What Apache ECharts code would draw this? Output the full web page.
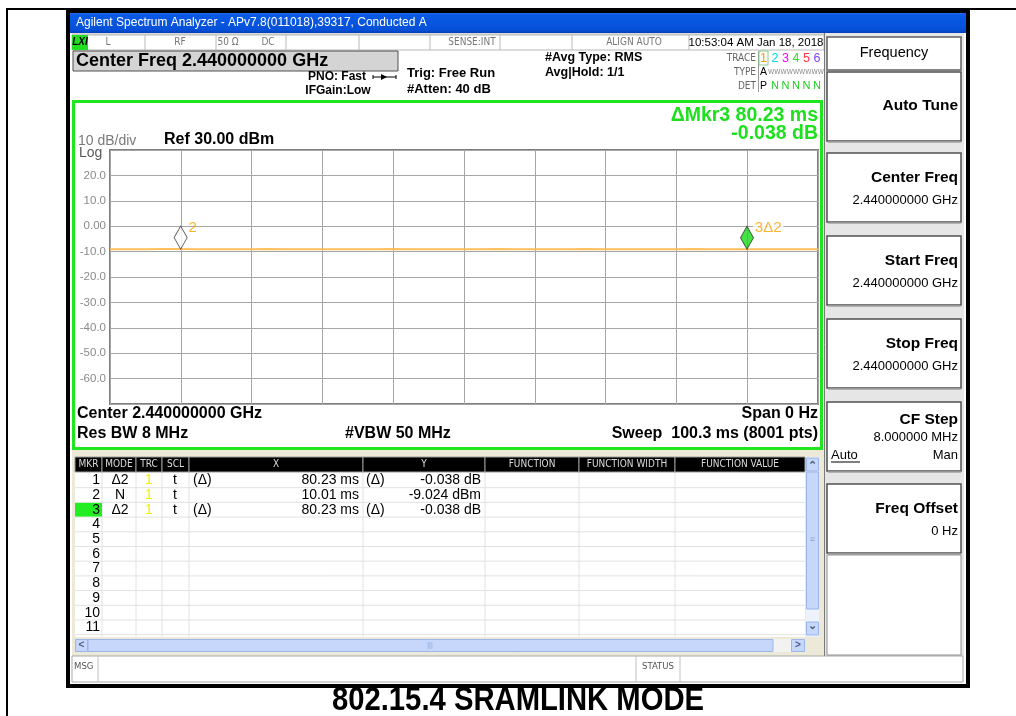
<!DOCTYPE html>
<html><head><meta charset="utf-8">
<script src="https://cdn.jsdelivr.net/npm/echarts@6/dist/echarts.min.js"></script>
<style>html,body{margin:0;padding:0;background:#fff}#c{width:1016px;height:716px}</style>
</head><body><div id="c"></div>
<script>
// ---------------- data ----------------
const sweepTimeMs = 100.3;
const refLevel = 30, bottomLevel = -70, dbPerDiv = 10;
const yTickLabels = {"20":"20.0","10":"10.0","0":"0.00","-10":"-10.0","-20":"-20.0","-30":"-30.0","-40":"-40.0","-50":"-50.0","-60":"-60.0"};
const traceTimes  = [0, 2.5, 5.0, 7.5, 10.01, 12.5, 15.0, 17.5, 20.0, 22.5, 25.0, 27.5, 30.0, 32.5, 35.0, 37.5, 40.0, 42.5, 45.0, 47.5, 50.0, 52.5, 55.0, 57.5, 60.0, 62.5, 65.0, 67.5, 70.0, 72.5, 75.0, 77.5, 80.0, 82.5, 85.0, 87.5, 90.24, 92.5, 95.0, 97.5, 100.3];
const traceLevels = [-9.05, -9.03, -9.04, -9.02, -9.024, -9.05, -9.03, -9.06, -9.04, -9.02, -9.05, -9.03, -9.04, -9.06, -9.03, -9.05, -9.02, -9.04, -9.05, -9.03, -9.04, -9.06, -9.02, -9.05, -9.03, -9.04, -9.05, -9.02, -9.04, -9.06, -9.03, -9.05, -9.04, -9.02, -9.05, -9.04, -9.062, -9.03, -9.05, -9.04, -9.03];
// marker table
const mkrNumbers = ["1","2","3","4","5","6","7","8","9","10","11"];
const mkrModes   = ["Δ2","N","Δ2"];
const mkrTrc     = ["1","1","1"];
const mkrScl     = ["t","t","t"];
const mkrXRef    = ["(Δ)","","(Δ)"];
const mkrX       = ["80.23 ms","10.01 ms","80.23 ms"];
const mkrYRef    = ["(Δ)","","(Δ)"];
const mkrY       = ["-0.038 dB","-9.024 dBm","-0.038 dB"];
const mkrRefTime = 10.01, mkrRefLevel = -9.024;
const mkrDeltaTime = 80.23, mkrDeltaLevel = -0.038;
const tableHeaders = ["MKR","MODE","TRC","SCL","X","Y","FUNCTION","FUNCTION WIDTH","FUNCTION VALUE"];
const softKeys = [
  {title:"Auto Tune", value:""},
  {title:"Center Freq", value:"2.440000000 GHz"},
  {title:"Start Freq", value:"2.440000000 GHz"},
  {title:"Stop Freq", value:"2.440000000 GHz"},
  {title:"CF Step", value:"8.000000 MHz"},
  {title:"Freq Offset", value:"0 Hz"}
];
const caption = "802.15.4 SRAMLINK MODE";

// ---------------- helpers ----------------
const F = "'Liberation Sans', Arial, sans-serif";
const FC = "'DejaVu Sans Condensed', 'Liberation Sans Narrow', sans-serif";
const G = [];
function T(text, x, y, font, fill, align, z, extra) {
  const s = {text:text, x:x, y:y, font:font, fill:fill||'#000', textAlign:align||'left', align:align||'left', textVerticalAlign:'middle', verticalAlign:'middle'};
  if (extra) Object.assign(s, extra);
  G.push({type:'text', silent:true, z:z||10, style:s});
}
function R(x, y, w, h, fill, stroke, lw, z) {
  G.push({type:'rect', silent:true, z:z||1, shape:{x:x, y:y, width:w, height:h}, style:{fill:fill||'none', stroke:stroke||'none', lineWidth:lw||1}});
}
function L(x1, y1, x2, y2, stroke, lw, z) {
  G.push({type:'line', silent:true, z:z||5, shape:{x1:x1, y1:y1, x2:x2, y2:y2}, style:{stroke:stroke, lineWidth:lw||1}});
}

// outer page lines
L(7, 9, 7, 716, '#000', 2, 20);
L(6, 9, 1016, 9, '#000', 2, 20);

// screenshot window frame
G.push({type:'rect', silent:true, z:1, shape:{x:70, y:12, width:896, height:21},
  style:{fill:{type:'linear', x:0, y:0, x2:0, y2:1, colorStops:[{offset:0,color:'#2b72ee'},{offset:0.15,color:'#0a5ae6'},{offset:0.85,color:'#0550d8'},{offset:1,color:'#0340b8'}]}}});
T("Agilent Spectrum Analyzer - APv7.8(011018),39317, Conducted A", 76, 23, "12px " + F, '#ffffff', 'left', 12);
R(68, 11, 900, 675, 'none', '#000', 4, 30);

// status row
R(72, 33, 752, 2, '#d8d8d8', null, 1, 2);
R(72, 35, 752, 15, '#ffffff', '#b8b8b8', 1, 2);
R(72, 35, 16, 15, '#22dd22', null, 1, 3);
T("LXI", 80, 42.5, "italic bold 10px " + F, '#000', 'center', 12);
[145, 216, 286, 359, 430, 500, 572, 689].forEach(x => L(x, 35, x, 50, '#b8b8b8', 1, 4));
T("L", 108, 42.5, "10px " + FC, '#777', 'center');
T("RF", 180, 42.5, "10px " + FC, '#777', 'center');
T("50 Ω", 228, 42.5, "10px " + FC, '#777', 'center');
T("DC", 268, 42.5, "10px " + FC, '#777', 'center');
T("SENSE:INT", 472, 42.5, "10px " + FC, '#777', 'center');
T("ALIGN AUTO", 634, 42.5, "10px " + FC, '#777', 'center');
T("10:53:04 AM Jan 18, 2018", 756, 42.5, "11.5px " + F, '#000', 'center');

// header info
R(73, 51, 325, 20, '#d4d4d4', '#505050', 1, 3);
T("Center Freq 2.440000000 GHz", 76, 61.5, "bold 18px " + F, '#000', 'left');
T("PNO: Fast", 337, 77, "bold 12px " + F, '#000', 'center');
G.push({type:'polyline', silent:true, z:8, shape:{points:[[373,77],[396,77]]}, style:{stroke:'#000', lineWidth:1}});
G.push({type:'polygon', silent:true, z:8, shape:{points:[[381,74],[387,77],[381,80]]}, style:{fill:'#000'}});
L(373, 75, 373, 79, '#000', 1, 8); L(396, 75, 396, 79, '#000', 1, 8);
T("IFGain:Low", 338, 90.5, "bold 12px " + F, '#000', 'center');
T("Trig: Free Run", 407, 73, "bold 13px " + F, '#000', 'left');
T("#Atten: 40 dB", 407, 89, "bold 13px " + F, '#000', 'left');
T("#Avg Type: RMS", 545, 58, "bold 12.5px " + F, '#000', 'left');
T("Avg|Hold: 1/1", 545, 73, "bold 12.5px " + F, '#000', 'left');
T("TRACE", 756, 58, "10px " + FC, '#666', 'right');
T("TYPE", 756, 72, "10px " + FC, '#666', 'right');
T("DET", 756, 86, "10px " + FC, '#666', 'right');
L(758.5, 51, 758.5, 92, '#999', 1, 4);
R(759, 51, 9, 14, 'none', '#8c8', 1, 4);
const traceDigitColors = ['#ff9900', '#00d8e8', '#ff00ff', '#33dd33', '#ff3344', '#7a44ff'];
const traceDigitX = [763.5, 775, 785.5, 796, 806.5, 817];
traceDigitX.forEach((x, i) => T(String(i + 1), x, 58.5, "12.5px " + F, traceDigitColors[i], 'center'));
T("A", 763.5, 72, "10.5px " + F, '#000', 'center');
T("WWWWWWWWW", 796, 72, "7px " + FC, '#888', 'center');
T("P", 763.5, 86, "10.5px " + F, '#000', 'center');
traceDigitX.slice(1).forEach(x => T("N", x, 86, "11px " + F, '#22cc22', 'center'));

// plot frame (green)
R(73.5, 101.5, 748, 347, 'none', '#1fe61f', 3, 6);
T("10 dB/div", 78, 141, "14px " + F, '#7a7a7a', 'left');
T("Log", 79, 153, "14px " + F, '#5a5a5a', 'left');
T("Ref 30.00 dBm", 164, 140, "bold 16px " + F, '#000', 'left');
T("ΔMkr3 80.23 ms", 818, 116, "bold 19.5px " + F, '#1ee01e', 'right');
T("-0.038 dB", 818, 134, "bold 19.5px " + F, '#1ee01e', 'right');
T("Center 2.440000000 GHz", 77, 414, "bold 16px " + F, '#000', 'left');
T("Span 0 Hz", 818, 414, "bold 16px " + F, '#000', 'right');
T("Res BW 8 MHz", 77, 434, "bold 16px " + F, '#000', 'left');
T("#VBW 50 MHz", 345, 434, "bold 16px " + F, '#000', 'left');
T("Sweep  100.3 ms (8001 pts)", 818, 434, "bold 16px " + F, '#000', 'right');

// lower area background
R(72, 449, 752, 207, '#ece9d8', null, 1, 0);
// marker table
const colX = [75, 102, 136, 162, 189, 363, 485, 579, 675, 805];
R(75, 457, 730, 180, '#ffffff', null, 1, 1);
for (let i = 0; i < tableHeaders.length; i++) {
  R(colX[i], 457, colX[i + 1] - colX[i], 15, '#000', '#9a9a9a', 1, 3);
  T(tableHeaders[i], (colX[i] + colX[i + 1]) / 2, 464.5, "10px " + FC, '#dcdcdc', 'center', 12);
}
const rowTop = 473, rowH = 14.7;
for (let r = 0; r < mkrNumbers.length; r++) {
  const yc = rowTop + rowH * (r + 0.5);
  L(75, rowTop + rowH * (r + 1), 805, rowTop + rowH * (r + 1), '#e2e2e2', 1, 2);
  if (r === 2) R(75, rowTop + rowH * r + 0.5, 27, rowH - 1, '#22ee22', null, 1, 3);
  T(mkrNumbers[r], 100, yc, "14px " + F, '#000', 'right');
  if (r < mkrModes.length) {
    T(mkrModes[r], 120, yc, "14px " + F, '#000', 'center');
    T(mkrTrc[r], 149, yc, "14px " + F, '#f0f000', 'center');
    T(mkrScl[r], 175, yc, "14px " + F, '#000', 'center');
    T(mkrXRef[r], 193, yc, "14px " + F, '#000', 'left');
    T(mkrX[r], 359, yc, "14px " + F, '#000', 'right');
    T(mkrYRef[r], 366, yc, "14px " + F, '#000', 'left');
    T(mkrY[r], 481, yc, "14px " + F, '#000', 'right');
  }
}
colX.slice(1, 9).forEach(x => L(x, 472, x, 637, '#e2e2e2', 1, 2));
// vertical scrollbar
R(806, 457, 13, 180, '#eef2fb', null, 1, 2);
R(806.5, 458, 12, 13, '#c6d7fb', '#9bb6ea', 1, 3);
T("⌃", 812.5, 466, "bold 11px " + F, '#4d6185', 'center');
R(806.5, 472, 12, 137, '#c6d7fb', '#9bb6ea', 1, 3);
T("≡", 812.5, 540, "9px " + F, '#8aa4d8', 'center');
R(806.5, 622, 12, 13, '#c6d7fb', '#9bb6ea', 1, 3);
T("⌄", 812.5, 626, "bold 11px " + F, '#4d6185', 'center');
// horizontal scrollbar
R(75, 639, 730, 13, '#f2f2f2', null, 1, 2);
R(75.5, 639.5, 12, 12, '#c6d7fb', '#9bb6ea', 1, 3);
T("<", 81.5, 645.5, "bold 10px " + F, '#4d6185', 'center');
R(88, 639.5, 685, 12, '#c6d7fb', '#9bb6ea', 1, 3);
T("|||", 430, 645.5, "7px " + F, '#8aa4d8', 'center');
R(791.5, 639.5, 13, 12, '#c6d7fb', '#9bb6ea', 1, 3);
T(">", 798, 645.5, "bold 10px " + F, '#4d6185', 'center');
// MSG row
R(72, 656, 891, 26, '#ffffff', '#a8a8a8', 1, 2);
L(98, 656, 98, 682, '#c0c0c0', 1, 3);
L(636, 656, 636, 682, '#c0c0c0', 1, 3);
L(680, 656, 680, 682, '#c0c0c0', 1, 3);
T("MSG", 74, 667, "9.5px " + FC, '#555', 'left');
T("STATUS", 658, 667, "9.5px " + FC, '#555', 'center');

// right soft-key panel
R(824, 33, 140, 623, '#e6e6e6', null, 1, 0);
L(824.5, 33, 824.5, 656, '#7a7a7a', 1, 4);
R(827, 37, 134, 33, '#ffffff', '#606060', 1.5, 3);
T("Frequency", 894, 53, "14.5px " + F, '#000', 'center');
const keyTops = [72, 153, 236, 319, 402, 484];
softKeys.forEach((k, i) => {
  const top = keyTops[i], h = 69;
  R(827, top, 134, h, '#ffffff', '#505050', 1.5, 3);
  L(828, top + h + 1, 961, top + h + 1, '#a0a0a0', 1.5, 3);
  if (!k.value) {
    T(k.title, 958, top + 34, "bold 15.5px " + F, '#000', 'right');
  } else if (i === 4) {
    T(k.title, 958, top + 18, "bold 15.5px " + F, '#000', 'right');
    T(k.value, 958, top + 35, "13px " + F, '#000', 'right');
  } else {
    T(k.title, 958, top + 25, "bold 15.5px " + F, '#000', 'right');
    T(k.value, 958, top + 47, "13px " + F, '#000', 'right');
  }
});
T("Auto", 831, 455, "13px " + F, '#000', 'left');
L(831, 462, 860, 462, '#000', 1, 10);
T("Man", 958, 455, "13px " + F, '#000', 'right');
R(827, 555, 134, 100, '#ffffff', '#909090', 1, 3);

// caption (narrow bold, emulated with horizontal scale)
G.push({type:'text', silent:true, z:20, x:518, y:701, scaleX:0.86,
  style:{text:caption, x:0, y:0, font:"bold 34px " + F, fill:'#000', textAlign:'center', align:'center', textVerticalAlign:'middle', verticalAlign:'middle'}});

// ---------------- chart ----------------
const tracePoints = traceTimes.map((t, i) => [t, traceLevels[i]]);
const markerPts = [
  {value:[mkrRefTime, mkrRefLevel], name:'2', fill:'#ffffff'},
  {value:[mkrRefTime + mkrDeltaTime, mkrRefLevel + mkrDeltaLevel], name:'3Δ2', fill:'#16dc16'}
];
const chart = echarts.init(document.getElementById('c'), null, {renderer:'canvas'});
chart.setOption({
  animation:false,
  backgroundColor:'transparent',
  grid:{left:110, top:150, width:708, height:254, show:true, backgroundColor:'transparent', borderColor:'#7e7e7e', borderWidth:2},
  xAxis:{type:'value', min:0, max:sweepTimeMs, interval:sweepTimeMs / 10,
    axisLine:{show:false}, axisTick:{show:false}, axisLabel:{show:false},
    splitLine:{show:true, lineStyle:{color:'#a6a6a6', width:1}}},
  yAxis:{type:'value', min:bottomLevel, max:refLevel, interval:dbPerDiv,
    axisLine:{show:false}, axisTick:{show:false},
    axisLabel:{margin:4, color:'#8a8a8a', fontSize:11.5, fontFamily:'Liberation Sans, Arial, sans-serif',
      formatter:v => yTickLabels[String(Math.round(v))] || ''},
    splitLine:{show:true, lineStyle:{color:'#a6a6a6', width:1}}},
  graphic:G,
  series:[
    {type:'line', data:tracePoints, showSymbol:false, z:5,
      lineStyle:{color:'#ffb84a', width:2, opacity:0.9}},
    {type:'scatter', z:8, symbol:'diamond', symbolSize:[13, 23], symbolOffset:[0, -11.5],
      data:markerPts.map(m => ({value:m.value, name:m.name,
        itemStyle:{color:m.fill, borderColor:'#333', borderWidth:1},
        label:{show:true, formatter:m.name, position:'right', offset:[-6, -10], color:'#ffa000',
          fontSize:15, fontFamily:'Liberation Sans, Arial, sans-serif',
          backgroundColor: m.name === '2' ? 'transparent' : '#ffffff', padding:[0, 2]}}))}
  ]
});
</script></body></html>
